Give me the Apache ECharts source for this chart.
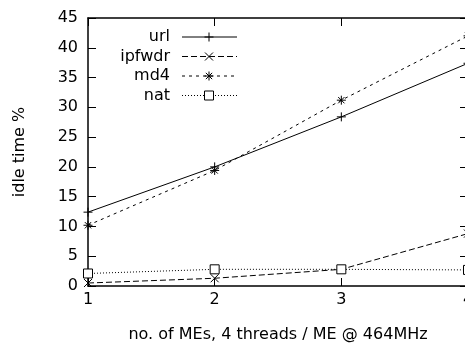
<!DOCTYPE html>
<html>
<head>
<meta charset="utf-8">
<script src="https://cdn.jsdelivr.net/npm/echarts@6/dist/echarts.min.js"></script>
<style>
  html, body { margin: 0; background: #fff; }
  #chart { width: 465px; height: 343px; }
</style>
</head>
<body>
<div id="chart"></div>
<script>
// number of MEs
const mes = [1, 2, 3, 4];
// idle time % per benchmark
const url = [12.4, 20.0, 28.4, 37.4];
const ipfwdr = [0.5, 1.3, 2.8, 8.8];
const md4 = [10.2, 19.4, 31.2, 42.0];
const nat = [2.1, 2.8, 2.8, 2.7];

const FONT = 'DejaVu Sans, sans-serif';
const FS = 16;

// gnuplot style point markers (path + the same shape as segments for the legend)
const PLUS = 'path://M0,5L10,5M5,0L5,10';
const CROSS = 'path://M0,0L10,10M10,0L0,10';
const STAR = 'path://M0,5L10,5M5,0L5,10M1.5,1.5L8.5,8.5M8.5,1.5L1.5,8.5';
const BOX = 'path://M0,0L10,0L10,10L0,10Z';

const defs = [
  { name: 'url', data: url, symbol: PLUS, size: 9, dash: 'solid',
    segs: [[0, 5, 10, 5], [5, 0, 5, 10]] },
  { name: 'ipfwdr', data: ipfwdr, symbol: CROSS, size: 8, dash: [6, 3],
    segs: [[0, 0, 10, 10], [10, 0, 0, 10]] },
  { name: 'md4', data: md4, symbol: STAR, size: 9, dash: [3, 4],
    segs: [[0, 5, 10, 5], [5, 0, 5, 10], [1.5, 1.5, 8.5, 8.5], [8.5, 1.5, 1.5, 8.5]] },
  { name: 'nat', data: nat, symbol: BOX, size: 9, dash: [1, 2], segs: [] }
];

const chart = echarts.init(document.getElementById('chart'));

// 自己画图例：文字右对齐，后面跟线段和标记
const legendGraphics = [];
defs.forEach((d, i) => {
  const y = 37 + i * 19.5;
  const mx = 209 - d.size / 2, my = y - d.size / 2, k = d.size / 10;
  legendGraphics.push({
    type: 'text',
    x: 170, y: y,
    style: { text: d.name, font: FS + 'px ' + FONT, fill: '#000', textAlign: 'right', textVerticalAlign: 'middle' }
  });
  legendGraphics.push({
    type: 'line',
    shape: { x1: 182, y1: y, x2: 237, y2: y },
    style: { stroke: '#000', lineWidth: 1, lineDash: d.dash === 'solid' ? null : d.dash }
  });
  d.segs.forEach(s => {
    legendGraphics.push({
      type: 'line',
      shape: { x1: mx + s[0] * k, y1: my + s[1] * k, x2: mx + s[2] * k, y2: my + s[3] * k },
      style: { stroke: '#000', lineWidth: 1 }
    });
  });
  if (d.symbol === BOX) {
    legendGraphics.push({
      type: 'rect',
      shape: { x: mx, y: my, width: d.size, height: d.size },
      style: { fill: '#fff', stroke: '#000', lineWidth: 1 }
    });
  }
});

const axisCommon = {
  type: 'value',
  axisLine: { show: true, onZero: false, lineStyle: { color: '#000', width: 1.5 } },
  axisTick: { show: true, inside: true, length: 8, lineStyle: { color: '#000', width: 1 } },
  splitLine: { show: false }
};

chart.setOption({
  animation: false,
  grid: { left: 88, top: 18, width: 380, height: 268, outerBoundsMode: 'none', containLabel: false },
  xAxis: [
    Object.assign({}, axisCommon, {
      position: 'bottom',
      min: 1, max: 4, interval: 1,
      axisLabel: { color: '#000', fontSize: FS, fontFamily: FONT, margin: 6 },
      name: 'no. of MEs, 4 threads / ME @ 464MHz',
      nameLocation: 'middle',
      nameGap: 41,
      nameTextStyle: { color: '#000', fontSize: FS, fontFamily: FONT }
    }),
    Object.assign({}, axisCommon, {
      position: 'top',
      min: 1, max: 4, interval: 1,
      axisLabel: { show: false }
    })
  ],
  yAxis: [
    Object.assign({}, axisCommon, {
      position: 'left',
      min: 0, max: 45, interval: 5,
      axisLabel: { color: '#000', fontSize: FS, fontFamily: FONT, margin: 10 },
      name: 'idle time %',
      nameLocation: 'middle',
      nameGap: 60,
      nameTextStyle: { color: '#000', fontSize: FS, fontFamily: FONT }
    }),
    Object.assign({}, axisCommon, {
      position: 'right',
      min: 0, max: 45, interval: 5,
      axisLabel: { show: false }
    })
  ],
  series: defs.map(d => ({
    name: d.name,
    type: 'line',
    data: d.data.map((v, i) => [mes[i], v]),
    symbol: d.symbol,
    symbolSize: d.size,
    showAllSymbol: true,
    clip: false,
    lineStyle: { color: '#000', width: 1, type: d.dash },
    itemStyle: { color: d.symbol === BOX ? '#fff' : 'none', borderColor: '#000', borderWidth: 1 },
    emphasis: { disabled: true }
  })),
  graphic: legendGraphics
});
</script>
</body>
</html>
